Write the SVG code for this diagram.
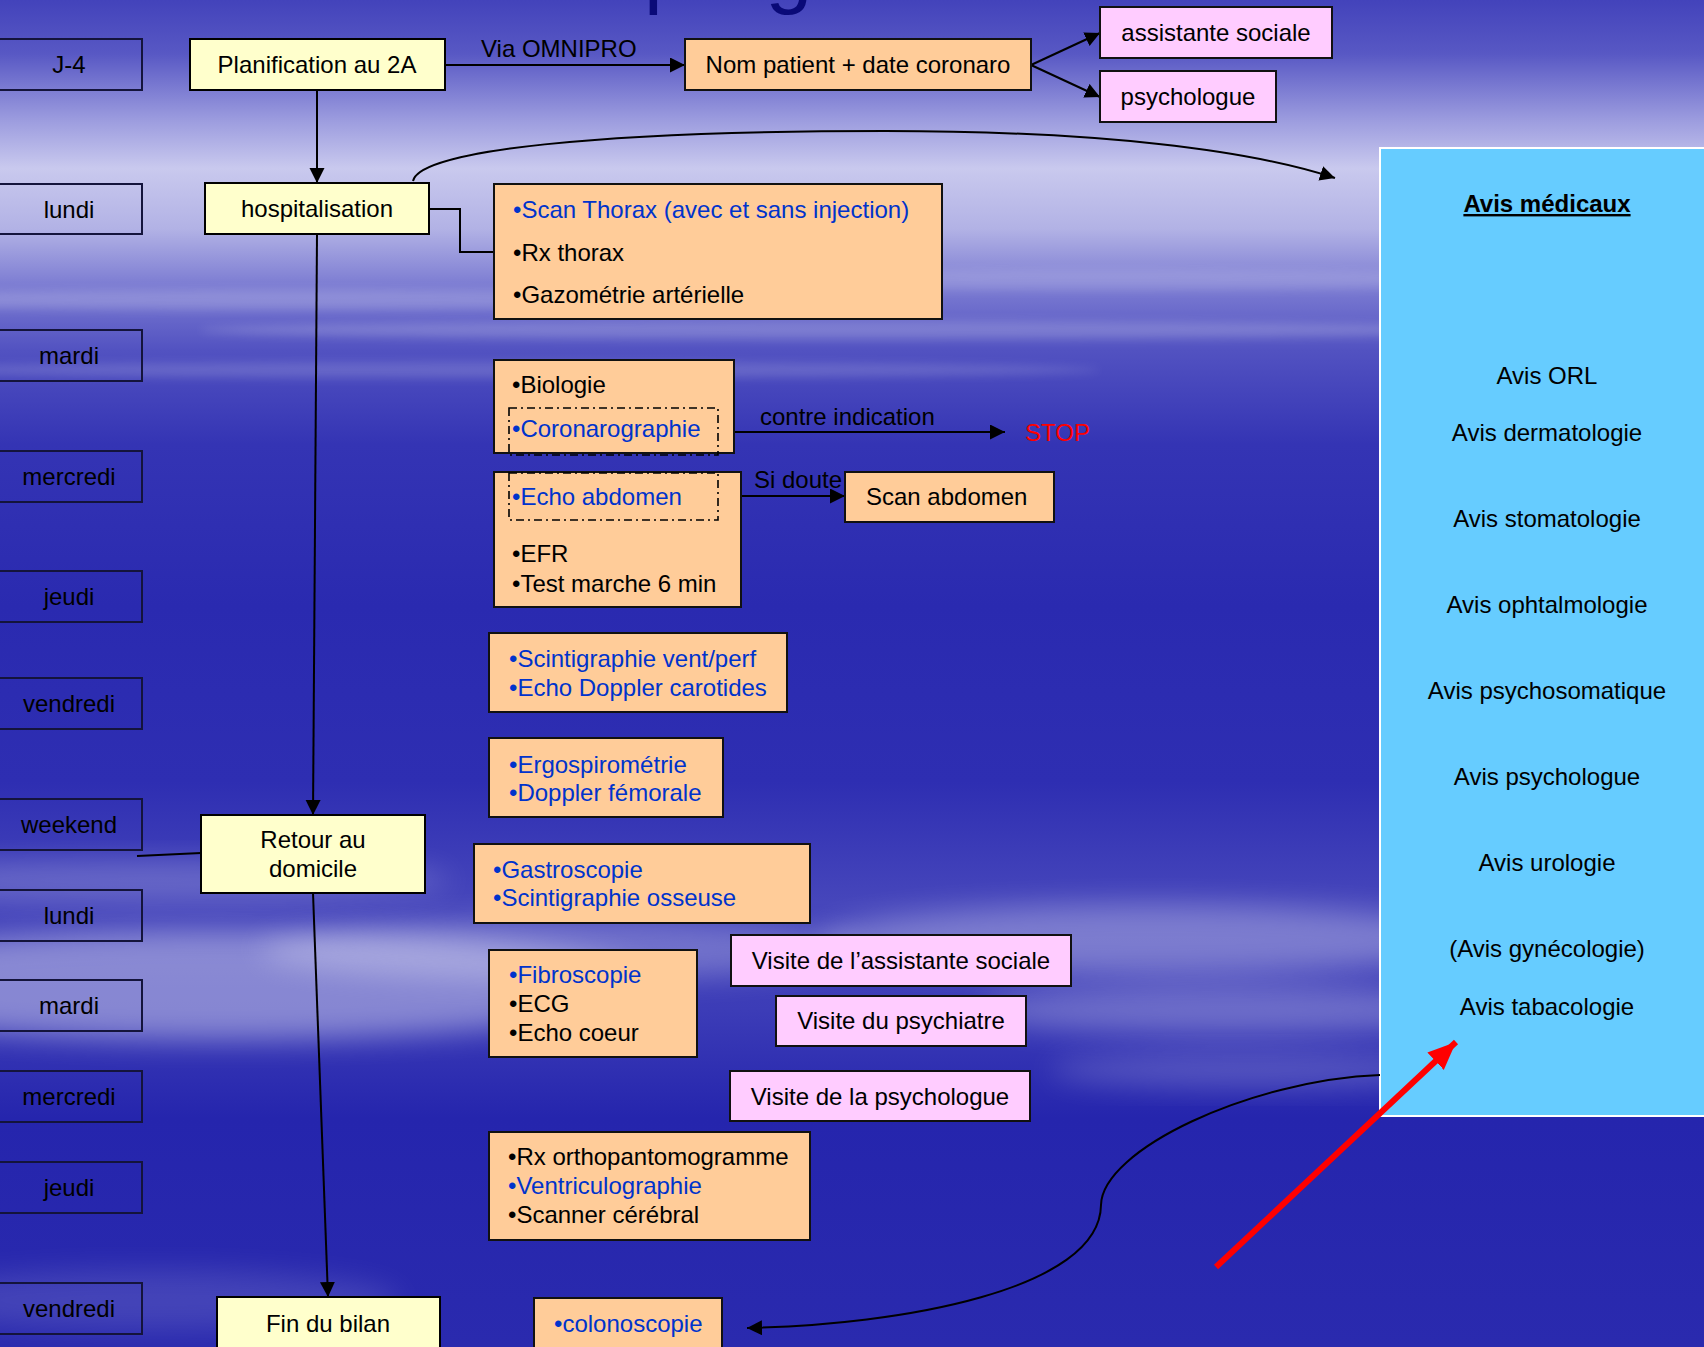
<svg xmlns="http://www.w3.org/2000/svg" width="1704" height="1347" viewBox="0 0 1704 1347">
  <defs>
    <linearGradient id="bg" x1="0" y1="0" x2="0" y2="1">
      <stop offset="0" stop-color="#4343bb"/>
      <stop offset="0.04" stop-color="#5858c4"/>
      <stop offset="0.09" stop-color="#9d9ddf"/>
      <stop offset="0.125" stop-color="#c9c9ee"/>
      <stop offset="0.17" stop-color="#b2b2e5"/>
      <stop offset="0.21" stop-color="#7e7ed3"/>
      <stop offset="0.26" stop-color="#5252c1"/>
      <stop offset="0.33" stop-color="#3434b4"/>
      <stop offset="0.45" stop-color="#2a2ab0"/>
      <stop offset="0.58" stop-color="#2e2eb2"/>
      <stop offset="0.67" stop-color="#4646bb"/>
      <stop offset="0.75" stop-color="#3c3cb7"/>
      <stop offset="0.83" stop-color="#2525ad"/>
      <stop offset="1" stop-color="#2a2aae"/>
    </linearGradient>
    <filter id="blur" x="-50%" y="-50%" width="200%" height="200%">
      <feGaussianBlur stdDeviation="14"/>
    </filter>
    <filter id="blur2" x="-50%" y="-50%" width="200%" height="200%">
      <feGaussianBlur stdDeviation="5"/>
    </filter>
    <marker id="ah" markerUnits="userSpaceOnUse" markerWidth="16" markerHeight="16" refX="15" refY="7.5" orient="auto">
      <path d="M0,0 L15,7.5 L0,15 z" fill="#000"/>
    </marker>
    <marker id="ahr" markerUnits="userSpaceOnUse" markerWidth="30" markerHeight="26" refX="28" refY="12" orient="auto">
      <path d="M0,0 L28,12 L0,24 z" fill="#ff0000"/>
    </marker>
    <style>
      text { font-family: "Liberation Sans", Arial, sans-serif; font-size: 24px; fill: #000; }
      .c { text-anchor: middle; }
      .blue { fill: #0033cc; }
      .day rect { fill: none; stroke: #14143c; stroke-width: 2; }
      .yel { fill: #ffffcc; stroke: #000; stroke-width: 2; }
      .org { fill: #ffcc99; stroke: #111; stroke-width: 2; }
      .pink { fill: #ffccff; stroke: #111; stroke-width: 2; }
      .dash { fill: none; stroke: #000; stroke-width: 1.6; stroke-dasharray: 8 4 2 4; }
      .ln { fill: none; stroke: #000; stroke-width: 2; }
      .arr { fill: none; stroke: #000; stroke-width: 2; marker-end: url(#ah); }
    </style>
  </defs>

  <!-- background -->
  <rect x="0" y="0" width="1704" height="1347" fill="url(#bg)"/>
  <g>
    <ellipse cx="300" cy="300" rx="520" ry="10" fill="#ffffff" opacity="0.18" filter="url(#blur2)"/>
    <ellipse cx="850" cy="330" rx="650" ry="9" fill="#ffffff" opacity="0.18" filter="url(#blur2)"/>
    <ellipse cx="500" cy="370" rx="600" ry="8" fill="#ffffff" opacity="0.15" filter="url(#blur2)"/>
    <ellipse cx="1100" cy="280" rx="500" ry="10" fill="#ffffff" opacity="0.15" filter="url(#blur2)"/>
    <ellipse cx="220" cy="985" rx="430" ry="55" fill="#ffffff" opacity="0.38" filter="url(#blur)"/>
    <ellipse cx="560" cy="950" rx="300" ry="30" fill="#ffffff" opacity="0.25" filter="url(#blur)"/>
    <ellipse cx="150" cy="880" rx="300" ry="20" fill="#ffffff" opacity="0.2" filter="url(#blur)"/>
    <ellipse cx="1150" cy="940" rx="330" ry="35" fill="#ffffff" opacity="0.3" filter="url(#blur)"/>
    <ellipse cx="1230" cy="1010" rx="250" ry="25" fill="#ffffff" opacity="0.25" filter="url(#blur)"/>
    <ellipse cx="1250" cy="1070" rx="200" ry="18" fill="#ffffff" opacity="0.18" filter="url(#blur)"/>
    <ellipse cx="150" cy="1300" rx="250" ry="30" fill="#ffffff" opacity="0.12" filter="url(#blur)"/>
  </g>

  <!-- title (cut off at top, as in the picture) -->
  <text x="644" y="-2" style="font-size:84px; fill:#0a0a78;">programme</text>

  <!-- Avis médicaux panel -->
  <g id="avis">
    <rect x="1380" y="148" width="330" height="968" fill="#66ccff" stroke="#ffffff" stroke-width="2"/>
    <text x="1547" y="212" class="c" style="font-weight:bold; text-decoration:underline;">Avis médicaux</text>
    <text x="1547" y="384" class="c">Avis ORL</text>
    <text x="1547" y="441" class="c">Avis dermatologie</text>
    <text x="1547" y="527" class="c">Avis stomatologie</text>
    <text x="1547" y="613" class="c">Avis ophtalmologie</text>
    <text x="1547" y="699" class="c">Avis psychosomatique</text>
    <text x="1547" y="785" class="c">Avis psychologue</text>
    <text x="1547" y="871" class="c">Avis urologie</text>
    <text x="1547" y="957" class="c">(Avis gynécologie)</text>
    <text x="1547" y="1015" class="c">Avis tabacologie</text>
  </g>

  <!-- day column -->
  <g id="d-j4" class="day"><rect x="-4" y="39" width="146" height="51"/><text x="69" y="73" class="c">J-4</text></g>
  <g id="d-lundi1" class="day"><rect x="-4" y="184" width="146" height="50"/><text x="69" y="218" class="c">lundi</text></g>
  <g id="d-mardi1" class="day"><rect x="-4" y="330" width="146" height="51"/><text x="69" y="364" class="c">mardi</text></g>
  <g id="d-mercredi1" class="day"><rect x="-4" y="451" width="146" height="51"/><text x="69" y="485" class="c">mercredi</text></g>
  <g id="d-jeudi1" class="day"><rect x="-4" y="571" width="146" height="51"/><text x="69" y="605" class="c">jeudi</text></g>
  <g id="d-vendredi1" class="day"><rect x="-4" y="678" width="146" height="51"/><text x="69" y="712" class="c">vendredi</text></g>
  <g id="d-weekend" class="day"><rect x="-4" y="799" width="146" height="51"/><text x="69" y="833" class="c">weekend</text></g>
  <g id="d-lundi2" class="day"><rect x="-4" y="890" width="146" height="51"/><text x="69" y="924" class="c">lundi</text></g>
  <g id="d-mardi2" class="day"><rect x="-4" y="980" width="146" height="51"/><text x="69" y="1014" class="c">mardi</text></g>
  <g id="d-mercredi2" class="day"><rect x="-4" y="1071" width="146" height="51"/><text x="69" y="1105" class="c">mercredi</text></g>
  <g id="d-jeudi2" class="day"><rect x="-4" y="1162" width="146" height="51"/><text x="69" y="1196" class="c">jeudi</text></g>
  <g id="d-vendredi2" class="day"><rect x="-4" y="1283" width="146" height="51"/><text x="69" y="1317" class="c">vendredi</text></g>

  <!-- connectors -->
  <g id="connectors">
    <path class="arr" d="M317,90 L317,183"/>
    <path class="arr" d="M445,65 L685,65"/>
    <text x="481" y="57">Via OMNIPRO</text>
    <path class="arr" d="M1031,65 L1100,33"/>
    <path class="arr" d="M1031,65 L1100,97"/>
    <path class="ln" d="M429,209 L460,209 L460,252 L494,252"/>
    <path class="arr" d="M317,234 L313,815"/>
    <path class="arr" d="M313,893 L328,1297"/>
    <path class="ln" d="M137,856 L201,853"/>
    <path class="arr" d="M413,181 C420,150 600,131 885,131 C1100,131 1250,150 1335,178"/>
    <path class="arr" d="M718,432 L1005,432"/>
    <text x="760" y="425">contre indication</text>
    <path class="arr" d="M718,496 L845,496"/>
    <text x="754" y="488">Si doute</text>
    <path class="arr" d="M1380,1075 C1250,1080 1102,1150 1101,1205 C1100,1290 900,1325 747,1328"/>
    <path d="M1216,1267 L1456,1042" fill="none" stroke="#ff0000" stroke-width="6" marker-end="url(#ahr)"/>
  </g>

  <!-- main nodes -->
  <g id="n-planif"><rect class="yel" x="190" y="39" width="255" height="51"/><text x="317" y="73" class="c">Planification au 2A</text></g>
  <g id="n-nom"><rect class="org" x="685" y="39" width="346" height="51"/><text x="858" y="73" class="c">Nom patient + date coronaro</text></g>
  <g id="n-assist"><rect class="pink" x="1100" y="7" width="232" height="51"/><text x="1216" y="41" class="c">assistante sociale</text></g>
  <g id="n-psycho"><rect class="pink" x="1100" y="71" width="176" height="51"/><text x="1188" y="105" class="c">psychologue</text></g>
  <g id="n-hosp"><rect class="yel" x="205" y="183" width="224" height="51"/><text x="317" y="217" class="c">hospitalisation</text></g>

  <g id="n-scanthorax">
    <rect class="org" x="494" y="184" width="448" height="135"/>
    <text x="513" y="218" class="blue">•Scan Thorax (avec et sans injection)</text>
    <text x="513" y="261">•Rx thorax</text>
    <text x="513" y="303">•Gazométrie artérielle</text>
  </g>

  <g id="n-biologie">
    <rect class="org" x="494" y="360" width="240" height="93"/>
    <text x="512" y="393">•Biologie</text>
    <text x="512" y="437" class="blue">•Coronarographie</text>
    <rect class="dash" x="509" y="408" width="209" height="47"/>
  </g>
  <g id="n-stop"><text x="1025" y="441" style="fill:#ff0000;">STOP</text></g>

  <g id="n-echo">
    <rect class="org" x="494" y="472" width="247" height="135"/>
    <rect class="dash" x="509" y="473" width="209" height="47"/>
    <text x="512" y="505" class="blue">•Echo abdomen</text>
    <text x="512" y="562">•EFR</text>
    <text x="512" y="592">•Test marche 6 min</text>
  </g>
  <g id="n-scanabd"><rect class="org" x="845" y="472" width="209" height="50"/><text x="866" y="505">Scan abdomen</text></g>

  <g id="n-scinti">
    <rect class="org" x="489" y="633" width="298" height="79"/>
    <text x="509" y="667" class="blue">•Scintigraphie vent/perf</text>
    <text x="509" y="696" class="blue">•Echo Doppler carotides</text>
  </g>
  <g id="n-ergo">
    <rect class="org" x="489" y="738" width="234" height="79"/>
    <text x="509" y="773" class="blue">•Ergospirométrie</text>
    <text x="509" y="801" class="blue">•Doppler fémorale</text>
  </g>
  <g id="n-retour">
    <rect class="yel" x="201" y="815" width="224" height="78"/>
    <text x="313" y="848" class="c">Retour au</text>
    <text x="313" y="877" class="c">domicile</text>
  </g>
  <g id="n-gastro">
    <rect class="org" x="474" y="844" width="336" height="79"/>
    <text x="493" y="878" class="blue">•Gastroscopie</text>
    <text x="493" y="906" class="blue">•Scintigraphie osseuse</text>
  </g>
  <g id="n-fibro">
    <rect class="org" x="489" y="950" width="208" height="107"/>
    <text x="509" y="983" class="blue">•Fibroscopie</text>
    <text x="509" y="1012">•ECG</text>
    <text x="509" y="1041">•Echo coeur</text>
  </g>
  <g id="n-v-assist"><rect class="pink" x="731" y="935" width="340" height="51"/><text x="901" y="969" class="c">Visite de l’assistante sociale</text></g>
  <g id="n-v-psychiatre"><rect class="pink" x="776" y="996" width="250" height="50"/><text x="901" y="1029" class="c">Visite du psychiatre</text></g>
  <g id="n-v-psychologue"><rect class="pink" x="730" y="1071" width="300" height="50"/><text x="880" y="1105" class="c">Visite de la psychologue</text></g>
  <g id="n-rx">
    <rect class="org" x="489" y="1132" width="321" height="108"/>
    <text x="508" y="1165">•Rx orthopantomogramme</text>
    <text x="508" y="1194" class="blue">•Ventriculographie</text>
    <text x="508" y="1223">•Scanner cérébral</text>
  </g>
  <g id="n-fin"><rect class="yel" x="217" y="1297" width="223" height="70"/><text x="328" y="1332" class="c">Fin du bilan</text></g>
  <g id="n-colono"><rect class="org" x="534" y="1298" width="188" height="70"/><text x="554" y="1332" class="blue">•colonoscopie</text></g>
</svg>
